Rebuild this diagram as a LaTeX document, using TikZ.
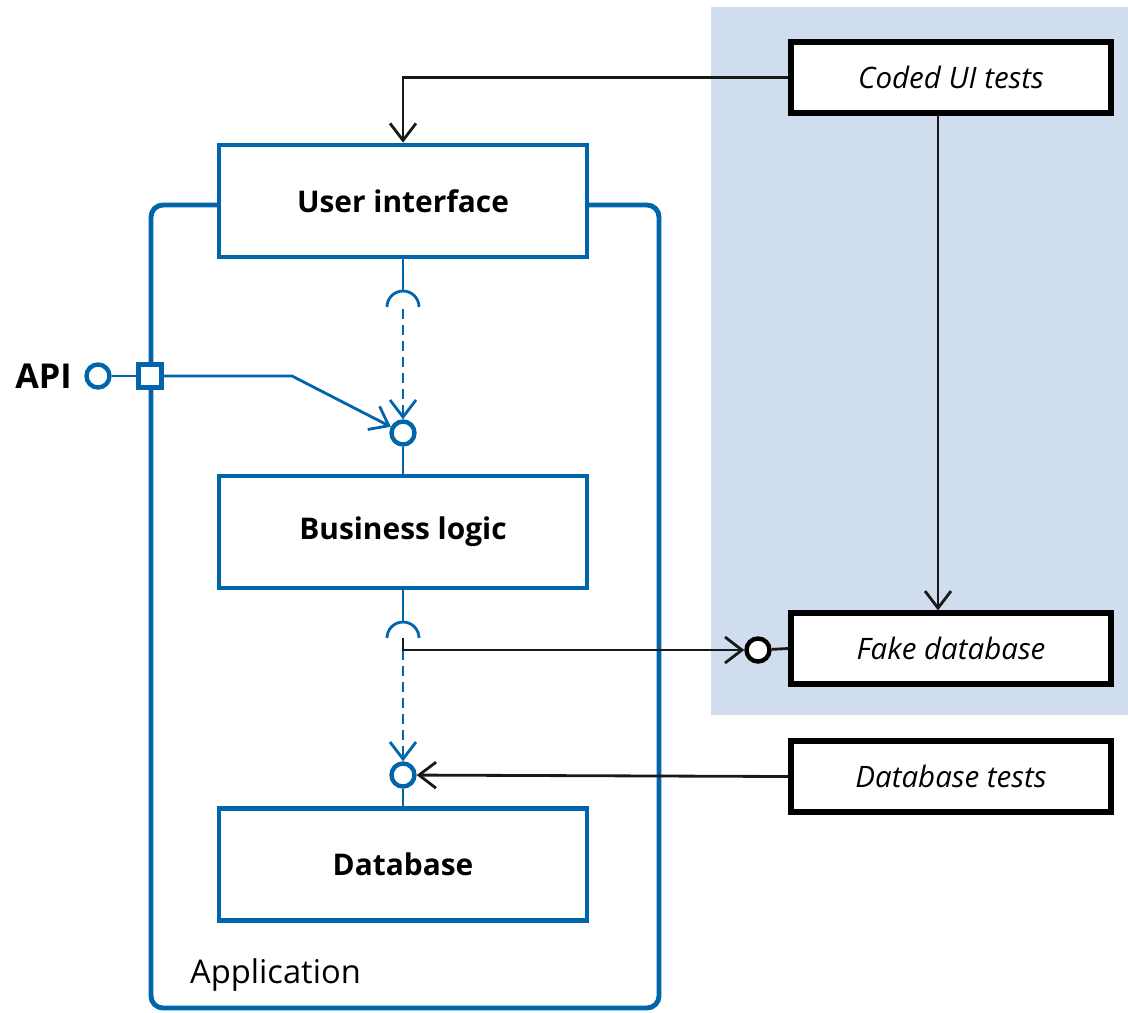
\documentclass[tikz,border=0pt]{standalone}
\usepackage{fontspec}
\setmainfont{Open Sans}
\usetikzlibrary{arrows.meta}
\definecolor{appblue}{RGB}{0,101,170}
\definecolor{testshade}{RGB}{208,221,238}
\definecolor{ink}{RGB}{25,25,25}
\tikzset{
  comp/.style={draw=appblue,line width=2.7pt,fill=white,minimum width=7.36cm,minimum height=2.24cm,inner sep=0pt,font=\fontsize{17}{20}\selectfont\bfseries},
  testbox/.style={draw=black,line width=3pt,fill=white,minimum width=6.4cm,minimum height=1.42cm,inner sep=0pt,font=\fontsize{16.8}{19}\selectfont\itshape},
  lolli/.style={circle,draw=appblue,line width=2.5pt,fill=white,minimum size=0.46cm,inner sep=0pt},
  blolli/.style={circle,draw=black,line width=2.5pt,fill=white,minimum size=0.46cm,inner sep=0pt},
  bline/.style={draw=appblue,line width=1.6pt},
  kline/.style={draw=ink,line width=1.6pt},
  barb/.style={-{Straight Barb[length=0.34cm,width=0.52cm,line width=1.6pt]}},
  dashline/.style={dash pattern=on 0.2cm off 0.12cm}
}
\begin{document}
\begin{tikzpicture}[x=0.02cm,y=-0.02cm]
\useasboundingbox (0,0) rectangle (1128,1012);
% shaded test region
\fill[testshade] (711,7) rectangle (1128,715);
% application frame
\draw[appblue,line width=2.8pt,rounded corners=0.24cm] (151,205) rectangle (659,1008);
\node[anchor=base west,font=\fontsize{18.6}{22}\selectfont] (applbl) at (184,983) {Application};
% components
\node[comp] (ui) at (403,201) {User interface};
\node[comp] (bl) at (403,532) {Business logic};
\node[comp] (db) at (403,864.5) {Database};
% test boxes
\node[testbox] (coded) at (951,77.5) {Coded UI tests};
\node[testbox] (fake) at (951,648.5) {Fake database};
\node[testbox] (dbt) at (951,776.5) {Database tests};
% provided interfaces
\node[lolli] (c1) at (403,433) {};
\node[lolli] (c2) at (403,775) {};
\node[blolli] (c3) at (758,650) {};
% API port
\node[anchor=base east,font=\fontsize{19.5}{22}\selectfont\bfseries] (api) at (78,388) {API};
\node[lolli] (apic) at (98,376) {};
\node[draw=appblue,line width=2.3pt,fill=white,minimum size=0.46cm,inner sep=0pt] (apisq) at (150,376) {};
\coordinate (apibend) at (292,376);
% sockets
\coordinate (s1) at (403,291);
\coordinate (s1end) at (403,309);
\coordinate (s2) at (403,622);
\coordinate (s2c) at (403,638);
\coordinate (j) at (403,650);
\draw[bline] (ui.south) -- (s1);
\draw[bline] (387,307) arc[start angle=180,end angle=0,radius=0.32cm];
\draw[bline] (bl.south) -- (s2);
\draw[bline] (387,638) arc[start angle=180,end angle=0,radius=0.32cm];
% dependencies (dashed)
\draw[bline,dashline,barb] (s1end) -- (c1.north);
\draw[bline,dashline,barb] (j) -- (c2.north);
% lollipop stems
\draw[bline] (c1) -- (bl.north);
\draw[bline] (c2) -- (db.north);
% API
\draw[bline] (apic) -- (apisq);
\draw[bline,barb] (apisq.east) -- (apibend) -- (c1);
% black connectors
\draw[kline,barb] (coded.west) -| (ui.north);
\draw[kline,barb] ([xshift=-0.26cm]coded.south) -- ([xshift=-0.26cm]fake.north);
\draw[kline,barb] (s2c) -- (j) -- (c3);
\draw[kline] (c3) -- (fake.west);
\draw[kline,barb] (dbt.west) -- (c2);
\end{tikzpicture}
\end{document}
